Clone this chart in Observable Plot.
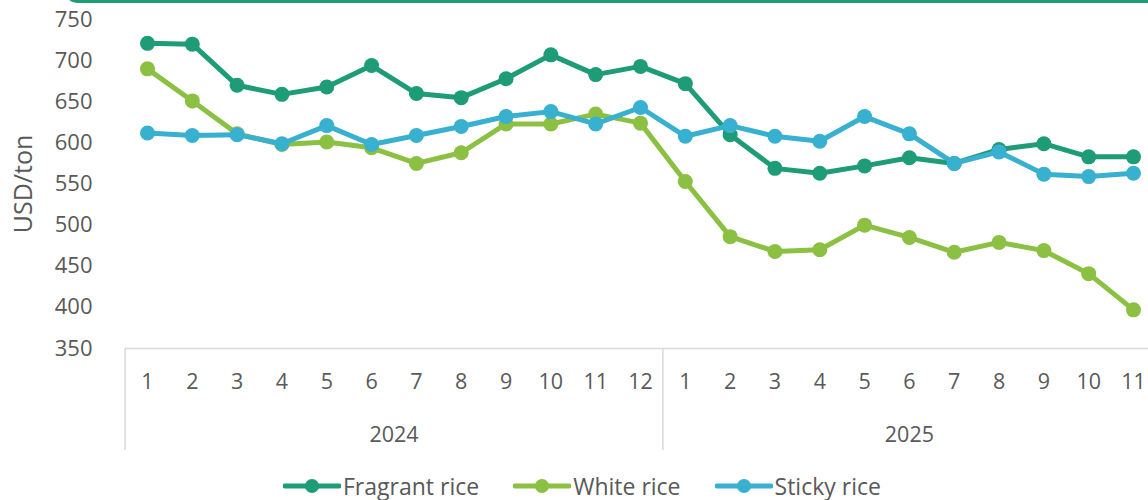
<!DOCTYPE html>
<html>
<head>
<meta charset="utf-8">
<script src="https://cdn.jsdelivr.net/npm/d3@7"></script>
<script src="https://cdn.jsdelivr.net/npm/@observablehq/plot@0.6"></script>
<style>
  html, body { margin: 0; padding: 0; background: #fff; }
  body { width: 1148px; height: 500px; overflow: hidden; position: relative; font-family: "Open Sans", sans-serif; }
  #topline { position: absolute; left: 65px; top: -28px; width: 1100px; height: 31px; border: 3px solid #1e9b77; border-radius: 12px; box-sizing: border-box; }
  #legend { position: absolute; left: 283px; top: 470px; display: flex; align-items: center; gap: 34px; font-size: 23px; color: #595959; white-space: nowrap; }
  .item { display: flex; align-items: center; gap: 2px; }
</style>
</head>
<body>
<div id="chart"></div>
<div id="topline"></div>
<div id="legend"></div>
<script>
const years = ["2024", "2025"];
const monthsPerYear = [12, 11];
const seriesNames = ["Fragrant rice", "White rice", "Sticky rice"];
const seriesColors = ["#1e9b77", "#8cc043", "#38b0d0"];
const fragrant = [721, 720, 670, 659, 668, 694, 660, 655, 678, 707, 683, 693,
                  672, 610, 569, 563, 572, 582, 575, 592, 599, 583, 583];
const white =    [690, 651, 611, 598, 601, 594, 575, 588, 623, 623, 635, 624,
                  553, 486, 468, 470, 500, 485, 467, 479, 469, 441, 397];
const sticky =   [612, 609, 610, 599, 621, 598, 609, 620, 632, 638, 623, 643,
                  608, 621, 608, 602, 632, 611, 575, 589, 562, 559, 563];
const yTicks = [350, 400, 450, 500, 550, 600, 650, 700, 750];

// build category table
const cats = [];
years.forEach((yr, k) => {
  for (let m = 1; m <= monthsPerYear[k]; m++) cats.push({i: cats.length, year: yr, month: String(m)});
});
const yearInfo = [];
let start = 0;
years.forEach((yr, k) => {
  yearInfo.push({year: yr, center: start + (monthsPerYear[k] - 1) / 2, sep: start - 0.5});
  start += monthsPerYear[k];
});
const seriesValues = [fragrant, white, sticky];
const data = [];
seriesNames.forEach((s, k) => seriesValues[k].forEach((v, i) => data.push({series: s, i, value: v})));

const grey = "#595959";
const marks = [
  Plot.ruleY([350], {stroke: "#d9d9d9", strokeWidth: 1.5}),
  Plot.ruleX(yearInfo, {x: "sep", y1: 350, y2: 226, stroke: "#d9d9d9", strokeWidth: 1.5, clip: false}),
  Plot.axisY({ticks: yTicks, tickSize: 0, tickPadding: 33, fontSize: 22, label: null, color: grey}),
  Plot.text(["USD/ton"], {frameAnchor: "left", textAnchor: "middle", rotate: -90, dx: -102, fontSize: 25, fill: grey}),
  Plot.text(cats, {x: "i", text: "month", frameAnchor: "bottom", dy: 40, fontSize: 21.5, fill: grey}),
  Plot.text(yearInfo, {x: "center", text: "year", frameAnchor: "bottom", dy: 93, fontSize: 21.5, fill: grey})
];
seriesNames.forEach((s, k) => {
  const d = data.filter(r => r.series === s);
  marks.push(Plot.line(d, {x: "i", y: "value", stroke: seriesColors[k], strokeWidth: 5, strokeLinejoin: "round"}));
  marks.push(Plot.dot(d, {x: "i", y: "value", r: 7.5, fill: seriesColors[k], stroke: "none"}));
});

const chart = Plot.plot({
  width: 1148,
  height: 468,
  marginLeft: 125,
  marginRight: 0,
  marginTop: 19,
  marginBottom: 120,
  style: {fontFamily: "Open Sans", overflow: "visible", background: "transparent"},
  x: {type: "linear", domain: [0, cats.length - 1], range: [147, 1133], axis: null},
  y: {domain: [350, 750], range: [348, 19], axis: null},
  marks
});
document.getElementById("chart").appendChild(chart);

const legend = document.getElementById("legend");
seriesNames.forEach((s, k) => {
  const item = document.createElement("div");
  item.className = "item";
  item.innerHTML = `<svg width="58" height="16"><line x1="2" y1="8" x2="56" y2="8" stroke="${seriesColors[k]}" stroke-width="5" stroke-linecap="round"/><circle cx="29" cy="8" r="7" fill="${seriesColors[k]}"/></svg><span>${s}</span>`;
  legend.appendChild(item);
});
</script>
</body>
</html>
